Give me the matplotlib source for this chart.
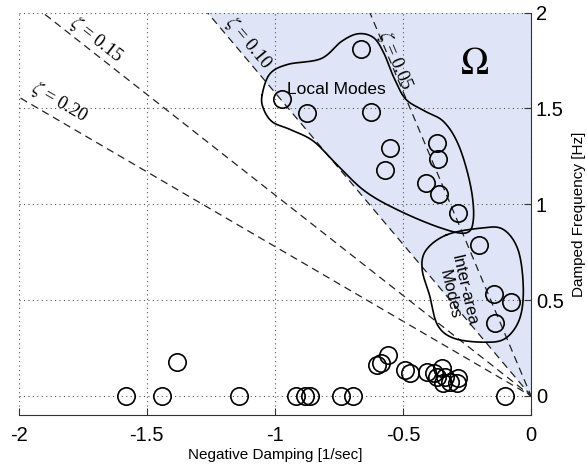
import numpy as np
import matplotlib.pyplot as plt

plt.rcParams['font.family'] = ['Liberation Sans', 'DejaVu Sans']
plt.rcParams['axes.unicode_minus'] = False
plt.rcParams['mathtext.fontset'] = 'stix'

# eigenvalues: real part [1/sec], damped frequency [Hz]
mode_sigma = [-0.664, -0.971, -0.874, -0.626, -0.551, -0.570, -0.366, -0.365,
              -0.410, -0.359, -0.284,
              -0.202, -0.143, -0.079, -0.141,
              -1.58, -1.44, -1.14, -1.384, -0.918, -0.883, -0.861, -0.743, -0.694, -0.102,
              -0.603, -0.585, -0.557, -0.492, -0.473, -0.407, -0.349, -0.368, -0.336,
              -0.316, -0.284, -0.290, -0.342, -0.380]
mode_freq = [1.81, 1.548, 1.475, 1.483, 1.295, 1.178, 1.318, 1.234,
             1.112, 1.053, 0.952,
             0.787, 0.531, 0.491, 0.38,
             0.0, 0.0, 0.0, 0.178, 0.0, 0.0, 0.0, 0.0, 0.0, 0.0,
             0.16, 0.17, 0.212, 0.134, 0.117, 0.125, 0.143, 0.10, 0.10,
             0.073, 0.091, 0.065, 0.065, 0.117]

zetas = [0.05, 0.10, 0.15, 0.20]
zeta_lbl = ['0.05', '0.10', '0.15', '0.20']
# label positions (sigma, freq) and rotation
lbl_pos = [(-0.531, 1.753), (-1.104, 1.84), (-1.697, 1.86), (-1.84, 1.535)]
lbl_rot = [-67, -50, -38, -30]

# hand drawn outlines around the mode groups
local_x = [-1.05, -1.02, -0.95, -0.82, -0.74, -0.675, -0.615, -0.575, -0.535, -0.49,
           -0.42, -0.34, -0.28, -0.235, -0.225, -0.255, -0.36, -0.52, -0.65, -0.76,
           -0.85, -0.94, -1.01, -1.045]
local_y = [1.57, 1.68, 1.73, 1.76, 1.85, 1.89, 1.87, 1.79, 1.66, 1.55,
           1.49, 1.43, 1.30, 1.09, 0.92, 0.85, 0.88, 0.97, 1.07, 1.21,
           1.33, 1.39, 1.43, 1.50]
inter_x = [-0.33, -0.2, -0.11, -0.05, -0.03, -0.045, -0.10, -0.18, -0.30, -0.365,
           -0.395, -0.425, -0.41]
inter_y = [0.84, 0.875, 0.87, 0.76, 0.56, 0.40, 0.30, 0.28, 0.30, 0.37,
           0.52, 0.66, 0.76]


def slope(z):
    # Hz per 1/sec along a constant damping ratio line
    return np.sqrt(1 - z**2) / z / (2 * np.pi)


def closed_spline(xs, ys, n=30):
    p = np.column_stack([xs, ys])
    m = len(p)
    out = []
    for i in range(m):
        p0, p1, p2, p3 = p[i - 1], p[i], p[(i + 1) % m], p[(i + 2) % m]
        t = np.linspace(0, 1, n, endpoint=False)[:, None]
        out.append(0.5 * ((2 * p1) + (-p0 + p2) * t + (2 * p0 - 5 * p1 + 4 * p2 - p3) * t**2
                          + (-p0 + 3 * p1 - 3 * p2 + p3) * t**3))
    out = np.vstack(out + [out[0][:1]])
    return out[:, 0], out[:, 1]


fig = plt.figure(figsize=(5.87, 4.70), dpi=100)
ax = fig.add_axes([0.032, 0.117, 0.8726, 0.856])

# shaded region right of zeta = 0.10
x_top = -2.0 / slope(0.10)
ax.fill([0, x_top, 0], [0, 2.0, 2.0], color='#dfe5f6', zorder=0, lw=0)

xs = np.linspace(-2.2, 0, 50)
for z in zetas:
    ax.plot(xs, -slope(z) * xs, ls=(0, (6, 4)), color='#222222', lw=0.9, zorder=2)
for (lx, ly), r, t in zip(lbl_pos, lbl_rot, zeta_lbl):
    ax.text(lx, ly, '$\\zeta$ = ' + t, rotation=r, ha='center', va='center',
            family='Liberation Serif', fontsize=13.5, zorder=3)

ax.plot(mode_sigma, mode_freq, 'o', mfc='none', mec='black', ms=12.5, mew=1.2, zorder=4)

cx, cy = closed_spline(local_x, local_y)
ax.plot(cx, cy, color='black', lw=1.2, zorder=3)
cx, cy = closed_spline(inter_x, inter_y)
ax.plot(cx, cy, color='black', lw=1.2, zorder=3)

ax.text(-0.76, 1.6, 'Local Modes', ha='center', va='center', fontsize=12.5, zorder=5)
ax.text(-0.29, 0.54, 'Inter-area\nModes', rotation=-77, ha='center', va='center',
        fontsize=12, linespacing=1.0, zorder=5)
ax.text(-0.22, 1.73, '$\\Omega$', ha='center', va='center', fontsize=27, zorder=5)

ax.set_xlim(-2, 0)
ax.set_ylim(-0.1, 2)
ax.set_xticks([-2, -1.5, -1, -0.5, 0])
ax.set_xticklabels(['-2', '-1.5', '-1', '-0.5', '0'])
ax.set_yticks([0, 0.5, 1, 1.5, 2])
ax.set_yticklabels(['0', '0.5', '1', '1.5', '2'])
ax.yaxis.tick_right()
ax.yaxis.set_label_position('right')
ax.tick_params(direction='in', labelsize=14.5, length=5, color='#333333')
ax.tick_params(axis='x', pad=8)
ax.grid(True, ls=(0, (1, 3)), color='#555555', lw=0.8)
ax.set_axisbelow(False)
for s in ['top', 'left']:
    ax.spines[s].set_visible(False)
for s in ['bottom', 'right']:
    ax.spines[s].set_color('#333333')
ax.set_xlabel('Negative Damping [1/sec]', fontsize=11, labelpad=2)
ax.set_ylabel('Damped Frequency [Hz]', fontsize=11, labelpad=6)

fig.savefig('out.png', dpi=100)
